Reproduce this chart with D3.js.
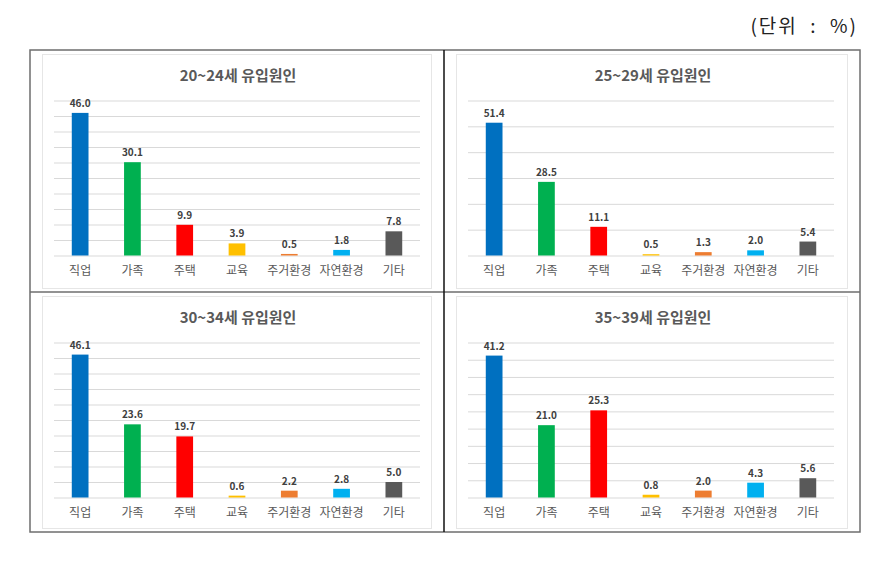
<!DOCTYPE html>
<html>
<head>
<meta charset="utf-8">
<script src="https://cdn.jsdelivr.net/npm/d3@7"></script>
<style>
    body { margin: 0; background: #fff; }
    text { font-family: "Noto Sans CJK KR", "Noto Sans", sans-serif; }
</style>
</head>
<body>
<div id="chart-container"></div>
<script>
// chart values
const categories = ['직업', '가족', '주택', '교육', '주거환경', '자연환경', '기타'];
const barColors = ['#0070C0', '#00B050', '#FF0000', '#FFC000', '#ED7D31', '#00B0F0', '#595959'];
const titles = ['20~24세 유입원인', '25~29세 유입원인', '30~34세 유입원인', '35~39세 유입원인'];
const age20 = [46.0, 30.1, 9.9, 3.9, 0.5, 1.8, 7.8];
const age25 = [51.4, 28.5, 11.1, 0.5, 1.3, 2.0, 5.4];
const age30 = [46.1, 23.6, 19.7, 0.6, 2.2, 2.8, 5.0];
const age35 = [41.2, 21.0, 25.3, 0.8, 2.0, 4.3, 5.6];
const axisMax = [50, 60, 50, 45];
const axisStep = [5, 10, 5, 5];
const unitLabel = '(단위  :  %)';

const seriesList = [age20, age25, age30, age35];

const svgWidth = 880, svgHeight = 573;

const svg = d3.select('#chart-container').append('svg')
    .attr('width', svgWidth)
    .attr('height', svgHeight);

svg.append('rect').attr('width', svgWidth).attr('height', svgHeight).attr('fill', '#fff');

// outer frame + dividers
const frame = {left: 30, top: 50, right: 860, bottom: 532, midX: 444, midY: 292};

svg.append('text')
    .attr('x', frame.right - 2)
    .attr('y', 33)
    .attr('text-anchor', 'end')
    .style('font-size', '19px')
    .style('letter-spacing', '2px')
    .style('white-space', 'pre')
    .style('fill', '#222')
    .text(unitLabel);

const cells = [
    {x: frame.left, y: frame.top, w: frame.midX - frame.left, h: frame.midY - frame.top},
    {x: frame.midX, y: frame.top, w: frame.right - frame.midX, h: frame.midY - frame.top},
    {x: frame.left, y: frame.midY, w: frame.midX - frame.left, h: frame.bottom - frame.midY},
    {x: frame.midX, y: frame.midY, w: frame.right - frame.midX, h: frame.bottom - frame.midY}
];

const drawPanel = (cell, values, title, yMax, step) => {
    const g = svg.append('g').attr('transform', `translate(${cell.x},${cell.y})`);

    // faint inner chart border
    g.append('rect')
        .attr('x', 12.5).attr('y', 4.5)
        .attr('width', cell.w - 25).attr('height', cell.h - 8)
        .attr('fill', '#fff')
        .attr('stroke', '#e6e6e6');

    g.append('text')
        .attr('x', cell.w / 2 + 1)
        .attr('y', 31)
        .attr('text-anchor', 'middle')
        .style('font-size', '15px')
        .style('font-weight', 'bold')
        .style('fill', '#595959')
        .text(title);

    const plotTop = 50.5, plotBottom = 205.5;
    const plotLeft = 24, plotRight = 390;

    const xScale = d3.scaleBand()
        .domain(categories)
        .range([plotLeft, plotRight])
        .paddingInner(0.68)
        .paddingOuter(0.34);

    const yScale = d3.scaleLinear()
        .domain([0, yMax])
        .range([plotBottom, plotTop]);

    // horizontal gridlines
    const grid = d3.axisLeft(yScale)
        .tickValues(d3.range(0, yMax + step / 2, step))
        .tickSize(-(plotRight - plotLeft))
        .tickFormat('');

    const gridG = g.append('g')
        .attr('transform', `translate(${plotLeft},0)`)
        .call(grid);
    gridG.select('.domain').remove();
    gridG.selectAll('line').attr('stroke', '#d9d9d9');

    const bars = g.selectAll('.bar')
        .data(values)
        .enter();

    bars.append('rect')
        .attr('x', (d, i) => xScale(categories[i]))
        .attr('y', d => yScale(d))
        .attr('width', xScale.bandwidth())
        .attr('height', d => yScale(0) - yScale(d))
        .style('fill', (d, i) => barColors[i]);

    bars.append('text')
        .attr('x', (d, i) => xScale(categories[i]) + xScale.bandwidth() / 2)
        .attr('y', d => yScale(d) - 6)
        .attr('text-anchor', 'middle')
        .style('font-size', '10px')
        .style('font-weight', 'bold')
        .style('fill', '#404040')
        .text(d => d.toFixed(1));

    // category axis labels
    const xAxis = d3.axisBottom(xScale).tickSize(0).tickPadding(11);
    const xG = g.append('g')
        .attr('transform', `translate(0,${plotBottom})`)
        .call(xAxis);
    xG.select('.domain').remove();
    xG.selectAll('text')
        .style('font-size', '12px')
        .style('font-family', '"Noto Sans CJK KR", sans-serif')
        .style('fill', '#595959');
};

cells.forEach((cell, i) => drawPanel(cell, seriesList[i], titles[i], axisMax[i], axisStep[i]));

// frame lines drawn last so they sit on top
svg.append('rect')
    .attr('x', frame.left).attr('y', frame.top)
    .attr('width', frame.right - frame.left)
    .attr('height', frame.bottom - frame.top)
    .attr('fill', 'none')
    .attr('stroke', '#6e6e6e')
    .attr('stroke-width', 1.5);

svg.append('line')
    .attr('x1', frame.left).attr('x2', frame.right)
    .attr('y1', frame.midY).attr('y2', frame.midY)
    .attr('stroke', '#6e6e6e')
    .attr('stroke-width', 1.5);

svg.append('line')
    .attr('x1', frame.midX).attr('x2', frame.midX)
    .attr('y1', frame.top).attr('y2', frame.bottom)
    .attr('stroke', '#111')
    .attr('stroke-width', 1.5);
</script>
</body>
</html>
